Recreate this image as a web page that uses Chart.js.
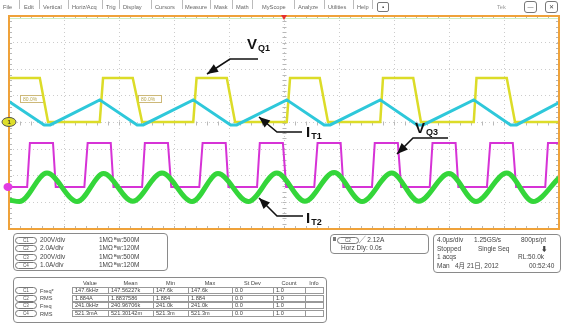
<!DOCTYPE html>
<html>
<head>
<meta charset="utf-8">
<script src="https://cdn.jsdelivr.net/npm/chart.js@4.4.1/dist/chart.umd.min.js"></script>
<style>
  body { margin: 0; background: #fff; width: 562px; height: 325px; overflow: hidden; position: relative;
         font-family: "Liberation Sans", Arial, "Noto Sans CJK SC", sans-serif; }
  #scope { position: absolute; left: 0; top: 0; }
  .t { position: absolute; font-size: 6.5px; line-height: 6px; color: #444; white-space: nowrap; }
  .menu { font-size: 5.7px; color: #666; }
  .sep { position: absolute; width: 1px; height: 9px; top: 3px; background: #bbb; }
  .box { position: absolute; border: 1px solid #8a8a8a; border-radius: 4px; }
  .pill { position: absolute; border: 1px solid #777; border-radius: 4px; width: 20px; height: 5px;
          font-size: 4.5px; line-height: 5px; text-align: center; color: #555; }
  .cell { position: absolute; border: 1px solid #999; height: 7px; box-sizing: border-box;
          font-size: 5.6px; line-height: 5px; padding-left: 2px; color: #444; white-space: nowrap; overflow: hidden; }
</style>
</head>
<body>
<canvas id="scope" width="562" height="325"></canvas>
<script>
// traces in screen divisions: x 0..10 across, y -4..4 (0 = centre line)
const q1Time  = [0, 0.56, 0.71, 1.65, 1.71, 2.25, 2.42, 3.35, 3.41, 3.96, 4.11, 5.05, 5.11, 5.65, 5.80, 6.75, 6.80, 7.35, 7.49, 8.45, 8.50, 9.05, 9.20, 10];
const q1Level = [1.67, 1.67, 0.02, 0.02, 1.67, 1.67, 0.02, 0.02, 1.67, 1.67, 0.02, 0.02, 1.67, 1.67, 0.02, 0.02, 1.67, 1.67, 0.02, 0.02, 1.67, 1.67, 0.02, 0.02];

const t1Time  = [0, 0.64, 0.75, 1.65, 2.33, 2.44, 3.35, 4.03, 4.14, 5.05, 5.73, 5.84, 6.75, 7.42, 7.53, 8.45, 9.12, 9.23, 10];
const t1Level = [0.79, -0.09, -0.09, 0.85, -0.09, -0.09, 0.85, -0.09, -0.09, 0.85, -0.09, -0.09, 0.85, -0.09, -0.09, 0.85, -0.09, -0.09, 0.75];

const q3Time  = [0, 0.33, 0.38, 0.80, 0.85, 1.37, 1.43, 1.85, 1.90, 2.42, 2.47, 2.89, 2.95, 3.46, 3.52, 3.94, 3.99,
                 4.51, 4.56, 4.98, 5.04, 5.55, 5.61, 6.03, 6.08, 6.60, 6.65, 7.07, 7.13, 7.65, 7.70, 8.12, 8.17,
                 8.69, 8.75, 9.16, 9.22, 9.75, 9.80, 10];
const q3Level = [-2.42, -2.42, -0.77, -0.77, -2.42, -2.42, -0.77, -0.77, -2.42, -2.42, -0.77, -0.77, -2.42, -2.42, -0.77, -0.77, -2.42,
                 -2.42, -0.77, -0.77, -2.42, -2.42, -0.77, -0.77, -2.42, -2.42, -0.77, -0.77, -2.42, -2.42, -0.77, -0.77, -2.42,
                 -2.42, -0.77, -0.77, -2.42, -2.42, -0.77, -0.77];

const t2Time  = [0, 0.19, 0.69, 1.24, 1.72, 2.25, 2.78, 3.33, 3.80, 4.35, 4.87, 5.38, 5.91, 6.42, 6.96, 7.45, 8.00, 8.49, 9.05, 9.53, 10];
const t2Level = [-2.91, -2.97, -1.90, -2.97, -1.92, -2.96, -1.90, -2.97, -1.92, -2.97, -1.90, -2.96, -1.88, -2.97, -1.90, -2.96, -1.92, -2.97, -1.90, -2.97, -2.08];

// readout panels
const menuItems = [["File", 3], ["Edit", 24], ["Vertical", 43], ["Horiz/Acq", 72], ["Trig", 106], ["Display", 123],
                   ["Cursors", 155], ["Measure", 185], ["Mask", 214], ["Math", 236], ["MyScope", 262], ["Analyze", 298],
                   ["Utilities", 328], ["Help", 357]];
const menuSeps = [19, 39, 68, 102, 119, 151, 182, 210, 232, 252, 294, 324, 353, 372];
const chanRows = [["C1", "200V/div", "500M"], ["C2", "2.0A/div", "120M"], ["C3", "200V/div", "500M"], ["C4", "1.0A/div", "120M"]];
const measHead = ["Value", "Mean", "Min", "Max", "St Dev", "Count", "Info"];
const measRows = [
  ["C1", "Freq*", "147.6kHz", "147.56227k", "147.6k", "147.6k", "0.0", "1.0", ""],
  ["C2", "RMS",   "1.884A",   "1.8837586",  "1.884",  "1.884",  "0.0", "1.0", ""],
  ["C3", "Freq",  "241.0kHz", "240.96706k", "241.0k", "241.0k", "0.0", "1.0", ""],
  ["C4", "RMS",   "521.3mA",  "521.30142m", "521.3m", "521.3m", "0.0", "1.0", ""]
];
const measCols = [72, 108, 153, 188, 232, 273, 305, 323];
const acqLines = [
  [["4.0µs/div", 437], ["1.25GS/s", 474], ["800ps/pt", 521]],
  [["Stopped", 437], ["Single Seq", 478], ["⬇", 541]],
  [["1 acqs", 437], ["RL:50.0k", 518]],
  [["Man", 437], ["4月 21日, 2012", 455], ["00:52:40", 529]]
];

const pts = (xs, ys) => xs.map((x, i) => ({ x, y: ys[i] }));

function arrowTo(ctx, path) {
  ctx.beginPath();
  ctx.moveTo(path[0][0], path[0][1]);
  for (let i = 1; i < path.length; i++) ctx.lineTo(path[i][0], path[i][1]);
  ctx.stroke();
  const [bx, by] = path[path.length - 2], [tx, ty] = path[path.length - 1];
  const a = Math.atan2(ty - by, tx - bx), L = 11, W = 4.5;
  ctx.beginPath();
  ctx.moveTo(tx, ty);
  ctx.lineTo(tx - L * Math.cos(a) + W * Math.sin(a), ty - L * Math.sin(a) - W * Math.cos(a));
  ctx.lineTo(tx - L * Math.cos(a) - W * Math.sin(a), ty - L * Math.sin(a) + W * Math.cos(a));
  ctx.closePath();
  ctx.fill();
}

function tag(ctx, x, y, big, small) {
  ctx.font = "bold 15px 'Liberation Sans', Arial, sans-serif";
  ctx.fillText(big, x, y);
  const w = ctx.measureText(big).width;
  ctx.font = "bold 9px 'Liberation Sans', Arial, sans-serif";
  ctx.fillText(small, x + w + 1, y + 2);
}

const scopeDecor = {
  id: "scopeDecor",
  beforeDatasetsDraw(chart) {
    const { ctx, chartArea: a, scales: { x, y } } = chart;
    ctx.save();
    ctx.strokeStyle = "#b8b8b8";
    ctx.lineWidth = 1;
    const cx = Math.round(x.getPixelForValue(5)) + 0.5, cy = Math.round(y.getPixelForValue(0)) + 0.5;
    ctx.beginPath();
    for (let v = 0; v <= 50; v++) {
      const px = Math.round(x.getPixelForValue(v / 5)) + 0.5;
      ctx.moveTo(px, cy - 2); ctx.lineTo(px, cy + 2);
      ctx.moveTo(px, a.top); ctx.lineTo(px, a.top + 3);
      ctx.moveTo(px, a.bottom); ctx.lineTo(px, a.bottom - 3);
    }
    for (let v = -20; v <= 20; v++) {
      const py = Math.round(y.getPixelForValue(v / 5)) + 0.5;
      ctx.moveTo(cx - 2, py); ctx.lineTo(cx + 2, py);
      ctx.moveTo(a.left, py); ctx.lineTo(a.left + 3, py);
      ctx.moveTo(a.right, py); ctx.lineTo(a.right - 3, py);
    }
    ctx.stroke();
    // reference-level readouts
    ctx.strokeStyle = "#cdb878";
    ctx.fillStyle = "#b9a850";
    ctx.font = "5px 'Liberation Sans', Arial, sans-serif";
    [[20, 95], [138, 95]].forEach(([bx, by]) => {
      ctx.strokeRect(bx + 0.5, by + 0.5, 23, 7);
      ctx.fillText("80.0%", bx + 3, by + 6);
    });
    ctx.restore();
  },
  afterDraw(chart) {
    const { ctx, chartArea: a, scales: { x, y } } = chart;
    ctx.save();
    // frame
    ctx.strokeStyle = "#efa23a";
    ctx.lineWidth = 2;
    ctx.strokeRect(a.left, a.top, a.right - a.left, a.bottom - a.top);
    ctx.strokeStyle = "#cdeec0";
    ctx.lineWidth = 1;
    ctx.beginPath(); ctx.moveTo(a.left + 1, a.top + 2.5); ctx.lineTo(a.right - 1, a.top + 2.5); ctx.stroke();
    // trigger position
    const mx = x.getPixelForValue(5);
    ctx.fillStyle = "#e53030";
    ctx.beginPath(); ctx.moveTo(mx - 3, a.top - 1); ctx.lineTo(mx + 3, a.top - 1); ctx.lineTo(mx, a.top + 4); ctx.closePath(); ctx.fill();
    // channel ground markers
    const g1 = y.getPixelForValue(0.02), g3 = y.getPixelForValue(-2.42);
    ctx.fillStyle = "#dede2a"; ctx.strokeStyle = "#555";
    ctx.beginPath(); ctx.ellipse(9, g1, 7, 4.5, 0, 0, Math.PI * 2); ctx.fill(); ctx.stroke();
    ctx.fillStyle = "#333"; ctx.font = "bold 6px 'Liberation Sans', Arial, sans-serif";
    ctx.fillText("1", 7.5, g1 + 2);
    ctx.fillStyle = "#e23be2";
    ctx.beginPath(); ctx.ellipse(8, g3, 4.5, 4, 0, 0, Math.PI * 2); ctx.fill();
    // trace labels
    ctx.fillStyle = "#111"; ctx.strokeStyle = "#111"; ctx.lineWidth = 1.6;
    tag(ctx, 247, 49, "V", "Q1");
    arrowTo(ctx, [[258, 59], [230, 59], [207, 74]]);
    tag(ctx, 306, 137, "I", "T1");
    arrowTo(ctx, [[302, 132], [277, 132], [259, 117]]);
    tag(ctx, 415, 133, "V", "Q3");
    arrowTo(ctx, [[448, 138], [413, 138], [397, 154]]);
    tag(ctx, 306, 223, "I", "T2");
    arrowTo(ctx, [[303, 216], [277, 216], [259, 198]]);
    ctx.restore();
  }
};

new Chart(document.getElementById("scope"), {
  type: "line",
  data: {
    datasets: [
      { label: "IT1", data: pts(t1Time, t1Level), borderColor: "#2ec8da", borderWidth: 3 },
      { label: "VQ1", data: pts(q1Time, q1Level), borderColor: "#dcdc28", borderWidth: 2.5 },
      { label: "IT2", data: pts(t2Time, t2Level), borderColor: "#34d63a", borderWidth: 5, cubicInterpolationMode: "monotone" },
      { label: "VQ3", data: pts(q3Time, q3Level), borderColor: "#d632d6", borderWidth: 2 }
    ]
  },
  options: {
    responsive: false,
    animation: false,
    devicePixelRatio: 1,
    layout: { padding: { left: 9, top: 16, right: 3, bottom: 96 } },
    elements: { point: { radius: 0 }, line: { tension: 0, fill: false } },
    plugins: { legend: { display: false }, tooltip: { enabled: false } },
    scales: {
      x: { type: "linear", min: 0, max: 10, ticks: { display: false, stepSize: 1 },
           grid: { color: "#cccccc", drawTicks: false }, border: { display: false, dash: [1, 3] } },
      y: { type: "linear", min: -4, max: 4, ticks: { display: false, stepSize: 1 },
           grid: { color: "#cccccc", drawTicks: false }, border: { display: false, dash: [1, 3] } }
    }
  },
  plugins: [scopeDecor]
});

// ---- html readouts ----
function put(x, y, txt, cls, extra) {
  const d = document.createElement("div");
  d.className = cls || "t";
  d.style.left = x + "px";
  d.style.top = y + "px";
  d.textContent = txt;
  if (extra) Object.assign(d.style, extra);
  document.body.appendChild(d);
  return d;
}
function box(x, y, w, h) { return put(x, y, "", "box", { width: w + "px", height: h + "px" }); }

menuItems.forEach(([s, x]) => put(x, 4, s, "t menu"));
menuSeps.forEach(x => put(x, 0, "", "sep", { left: x + "px" }));
put(377, 2, "▪", "t", { border: "1px solid #777", borderRadius: "2px", width: "10px", height: "8px", textAlign: "center", lineHeight: "8px", fontSize: "6px" });
put(497, 4, "Tek", "t menu", { color: "#999" });
put(524, 1, "—", "t", { border: "1px solid #777", borderRadius: "3px", width: "11px", height: "10px", textAlign: "center", lineHeight: "10px", fontSize: "6px" });
put(545, 1, "✕", "t", { border: "1px solid #777", borderRadius: "3px", width: "11px", height: "10px", textAlign: "center", lineHeight: "10px", fontSize: "6px" });

box(13, 233, 153, 36);
chanRows.forEach(([c, scale, bw], i) => {
  const y = 237 + i * 8.4;
  put(15, y, c, "pill");
  put(40, y, scale);
  put(99, y, "1MΩ");
  put(114, y, "ᴮw:" + bw);
});

box(13, 277, 312, 44);
measHead.forEach((h, i) => {
  const w = measCols[i + 1] - measCols[i];
  put(measCols[i], 280, h, "t", { width: w + "px", textAlign: "center", fontSize: "5.6px" });
});
measRows.forEach((row, r) => {
  const y = 287 + r * 7.7;
  put(15, y, row[0], "pill");
  put(40, y, row[1], "t", { fontSize: "5.6px", top: (y + 0.5) + "px" });
  for (let c = 0; c < 7; c++) {
    put(measCols[c], y, row[c + 2], "cell", { width: (measCols[c + 1] - measCols[c] + 1) + "px" });
  }
});

box(330, 234, 97, 18);
put(333, 237, "", "t", { width: "3px", height: "4px", background: "#777" });
put(337, 237, "C2", "pill");
put(359, 237, "╱ 2.12A");
put(341, 245, "Horz Dly:   0.0s");

box(433, 234, 126, 37);
acqLines.forEach((line, i) => line.forEach(([s, x]) => put(x, 237 + i * 8.6, s)));
</script>
</body>
</html>
